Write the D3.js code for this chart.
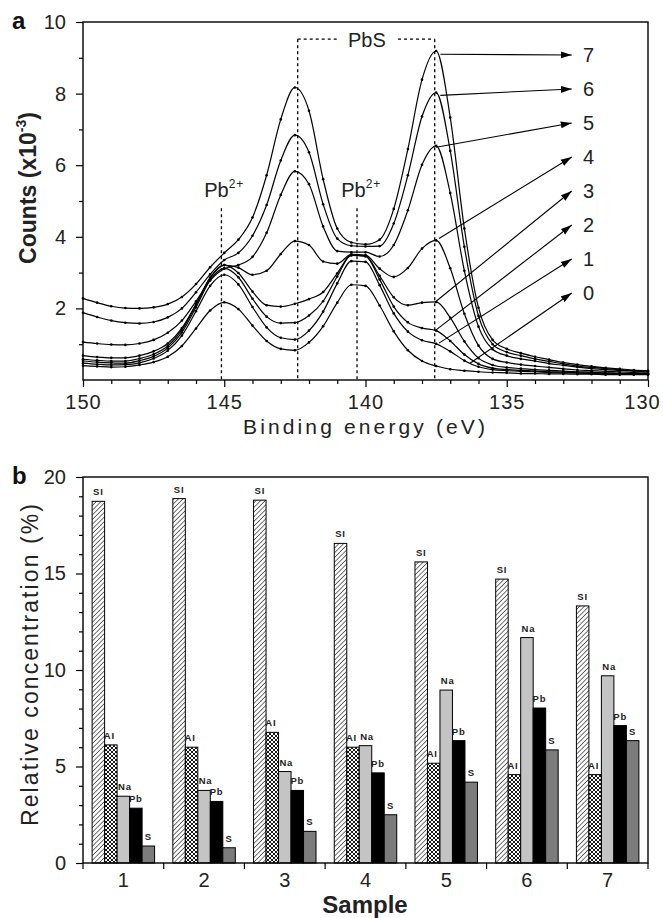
<!DOCTYPE html>
<html><head><meta charset="utf-8">
<script src="https://cdn.jsdelivr.net/npm/d3@7"></script>
<style>
body{margin:0;background:#fff}
svg{display:block;font-family:"Liberation Sans",Arial,Helvetica,sans-serif}
</style>
</head><body>
<svg id="c" width="663" height="918"></svg>
<script>
// ---------- Panel a data : XPS Pb 4f spectra (counts x10^-3) ----------
const energy = [150,149.5,149,148.5,148,147.5,147,146.5,146,145.5,145,144.5,144,143.5,143,142.5,142,141.5,141,140.5,140,139.5,139,138.5,138,137.5,137,136.5,136,135.5,135,134.5,134,133.5,133,132.5,132,131.5,131,130.5,130];
const spectrum7 = [2.28,2.16,2.06,2.01,2.00,2.03,2.12,2.32,2.68,3.15,3.55,3.92,4.54,5.72,7.28,8.17,7.52,5.61,4.23,3.84,3.79,3.92,4.78,6.45,8.39,9.19,7.33,4.23,2.02,1.12,0.87,0.75,0.65,0.57,0.49,0.43,0.38,0.34,0.31,0.28,0.26];
const spectrum6 = [1.88,1.76,1.66,1.60,1.58,1.62,1.75,2.00,2.45,2.95,3.35,3.55,4.03,4.89,6.13,6.84,6.36,4.91,3.95,3.75,3.73,3.74,4.37,5.72,7.36,8.03,6.40,3.72,1.79,1.00,0.78,0.68,0.59,0.52,0.45,0.39,0.35,0.32,0.29,0.26,0.25];
const spectrum5 = [1.06,1.02,0.99,0.98,1.02,1.12,1.32,1.66,2.20,2.78,3.11,3.21,3.44,4.11,5.17,5.83,5.47,4.29,3.60,3.57,3.57,3.45,3.77,4.74,6.01,6.54,5.22,3.05,1.49,0.86,0.68,0.59,0.53,0.46,0.41,0.36,0.32,0.29,0.27,0.25,0.23];
const spectrum4 = [0.68,0.64,0.62,0.62,0.68,0.80,1.02,1.45,2.12,2.85,3.21,3.14,2.94,3.05,3.52,3.88,3.77,3.31,3.25,3.51,3.49,3.11,2.88,3.13,3.67,3.90,3.12,1.85,0.96,0.59,0.49,0.43,0.39,0.35,0.31,0.28,0.26,0.24,0.23,0.21,0.20];
const spectrum3 = [0.58,0.55,0.53,0.53,0.60,0.72,0.95,1.40,2.10,2.86,3.21,2.99,2.47,2.09,2.05,2.13,2.26,2.46,2.98,3.48,3.46,2.91,2.31,2.09,2.16,2.18,1.74,1.08,0.61,0.42,0.35,0.32,0.29,0.27,0.25,0.23,0.22,0.20,0.19,0.18,0.18];
const spectrum2 = [0.53,0.50,0.48,0.47,0.54,0.66,0.89,1.33,2.03,2.79,3.12,2.87,2.27,1.77,1.59,1.60,1.80,2.20,2.89,3.49,3.46,2.81,2.05,1.61,1.45,1.38,1.09,0.71,0.45,0.33,0.29,0.27,0.25,0.23,0.22,0.20,0.20,0.19,0.18,0.17,0.17];
const spectrum1 = [0.47,0.44,0.42,0.43,0.48,0.60,0.82,1.24,1.92,2.63,2.94,2.67,2.04,1.47,1.18,1.13,1.38,1.91,2.70,3.32,3.30,2.65,1.86,1.35,1.11,1.01,0.80,0.54,0.37,0.29,0.26,0.24,0.23,0.21,0.20,0.19,0.18,0.17,0.17,0.16,0.16];
const spectrum0 = [0.40,0.38,0.36,0.37,0.42,0.50,0.65,0.95,1.44,1.94,2.17,1.98,1.52,1.09,0.87,0.83,1.05,1.50,2.16,2.66,2.63,2.08,1.36,0.83,0.53,0.39,0.30,0.26,0.23,0.21,0.20,0.18,0.18,0.17,0.17,0.16,0.16,0.15,0.15,0.15,0.15];
const spectra = [spectrum0,spectrum1,spectrum2,spectrum3,spectrum4,spectrum5,spectrum6,spectrum7];

const xTicksMajorA = [150,145,140,135,130];
const yTicksMajorA = [2,4,6,8,10];

// annotations (energy, counts)
const pb2Lines = [145.1, 140.3];
const pb2LineTop = 4.8;
const pb2Labels = [145.0, 140.15];
const pb2LabelLevel = 5.12;
const pbsLines = [142.4, 137.55];
const pbsBracketLevel = 9.52;
const pbsBracketSegments = [[142.4,141.0],[138.85,137.55]];
const pbsLabelEnergy = 139.95, pbsLabelLevel = 9.3;
const curveLabels = ["7","6","5","4","3","2","1","0"];
const arrowStartE = [137.35,137.35,137.5,137.4,137.5,137.5,137.4,136.3];
const arrowStartV = [9.10,7.95,6.50,3.95,2.20,1.40,1.03,0.47];
const labelLevels = [9.08,8.13,7.18,6.23,5.28,4.33,3.38,2.43];
const arrowTipE = 132.7, labelE = 132.1;

// ---------- Panel b data : relative concentration (%) ----------
const samples = ["1","2","3","4","5","6","7"];
const elements = ["Si","Al","Na","Pb","S"];
const elementLabels = ["SI","AI","Na","Pb","S"];
const siValues = [18.74,18.88,18.80,16.56,15.60,14.71,13.32];
const alValues = [6.12,6.00,6.77,6.00,5.17,4.58,4.58];
const naValues = [3.46,3.76,4.74,6.08,8.96,11.68,9.70];
const pbValues = [2.84,3.19,3.76,4.67,6.34,8.03,7.12];
const sValues  = [0.88,0.79,1.64,2.50,4.19,5.86,6.34];
const yTicksMajorB = [0,5,10,15,20];

const svg = d3.select("#c");
const defs = svg.append("defs");
const hatch = defs.append("pattern").attr("id","hatch").attr("patternUnits","userSpaceOnUse")
  .attr("width",3.3).attr("height",3.3).attr("patternTransform","rotate(45)");
hatch.append("rect").attr("width",3.3).attr("height",3.3).attr("fill","#fff");
hatch.append("line").attr("x1",0).attr("y1",0).attr("x2",0).attr("y2",3.3).attr("stroke","#000").attr("stroke-width",1.1);
const cross = defs.append("pattern").attr("id","cross").attr("patternUnits","userSpaceOnUse")
  .attr("width",4).attr("height",4);
cross.append("rect").attr("width",4).attr("height",4).attr("fill","#fff");
cross.append("path").attr("d","M0,0L4,4M4,0L0,4").attr("stroke","#000").attr("stroke-width",0.9);
defs.append("marker").attr("id","arr").attr("markerUnits","userSpaceOnUse")
  .attr("markerWidth",11).attr("markerHeight",8).attr("refX",11).attr("refY",4).attr("orient","auto")
  .append("path").attr("d","M0,0.5L11,4L0,7.5Z").attr("fill","#000");

function cleanAxis(g){ g.select(".domain").remove(); g.selectAll("line").attr("stroke","#000").attr("stroke-width",1.2); }

// ================= Panel a =================
const L1=83,R1=648,T1=22,B1=380;
const xE = d3.scaleLinear().domain([150,130]).range([L1,R1]);
const yC = d3.scaleLinear().domain([0,10]).range([B1,T1]);
const ga = svg.append("g");

ga.append("g").attr("transform",`translate(${L1},0)`)
  .call(d3.axisLeft(yC).tickValues(d3.range(1,10,2)).tickSize(4).tickFormat(""))
  .call(cleanAxis);
ga.append("g").attr("transform",`translate(${L1},0)`)
  .call(d3.axisLeft(yC).tickValues(yTicksMajorA).tickSize(7).tickPadding(10))
  .call(cleanAxis)
  .selectAll("text").attr("font-size",20).attr("fill","#222").attr("font-family","Liberation Sans, Arial");
ga.append("g").attr("transform",`translate(0,${B1})`)
  .call(d3.axisBottom(xE).tickValues(d3.range(131,150).filter(d=>d%5!==0)).tickSize(4).tickFormat(""))
  .call(cleanAxis);
ga.append("g").attr("transform",`translate(0,${B1})`)
  .call(d3.axisBottom(xE).tickValues(xTicksMajorA).tickSize(7).tickPadding(8))
  .call(cleanAxis)
  .selectAll("text").attr("font-size",20).attr("fill","#222").attr("font-family","Liberation Sans, Arial")
  .attr("letter-spacing",1).attr("dx",d=>d===130?-6:0);

// dashed reference lines
const dash = ga.append("g").attr("stroke","#000").attr("stroke-width",1.3).attr("stroke-dasharray","3,3").attr("fill","none");
pb2Lines.forEach(e=>dash.append("line").attr("x1",xE(e)).attr("x2",xE(e)).attr("y1",yC(pb2LineTop)).attr("y2",yC(0)));
pbsLines.forEach(e=>dash.append("line").attr("x1",xE(e)).attr("x2",xE(e)).attr("y1",yC(pbsBracketLevel)).attr("y2",yC(0)));
pbsBracketSegments.forEach(s=>dash.append("line").attr("x1",xE(s[0])).attr("x2",xE(s[1])).attr("y1",yC(pbsBracketLevel)).attr("y2",yC(pbsBracketLevel)));

// spectra
const line = d3.line().x((d,i)=>xE(energy[i])).y(d=>yC(d)).curve(d3.curveMonotoneX);
spectra.forEach(s=>{
  ga.append("path").attr("d",line(s)).attr("fill","none").attr("stroke","#000").attr("stroke-width",1.2);
  ga.append("g").selectAll("circle").data(s).join("circle")
    .attr("cx",(d,i)=>xE(energy[i])).attr("cy",d=>yC(d)).attr("r",1.3).attr("fill","#000");
});

// labels
pb2Labels.forEach(e=>{
  const t = ga.append("text").attr("x",xE(e)).attr("y",yC(pb2LabelLevel)).attr("text-anchor","middle")
    .attr("font-size",20).attr("fill","#222");
  t.append("tspan").text("Pb");
  t.append("tspan").attr("font-size",12).attr("dy",-9).attr("letter-spacing",1).text("2+");
});
ga.append("text").attr("x",xE(pbsLabelEnergy)).attr("y",yC(pbsLabelLevel)).attr("text-anchor","middle")
  .attr("font-size",20).attr("fill","#222").text("PbS");

// arrows + numbers
curveLabels.forEach((lab,i)=>{
  ga.append("line").attr("x1",xE(arrowStartE[i])).attr("y1",yC(arrowStartV[i]))
    .attr("x2",xE(arrowTipE)).attr("y2",yC(labelLevels[i]))
    .attr("stroke","#000").attr("stroke-width",1.1).attr("marker-end","url(#arr)");
  ga.append("text").attr("x",xE(labelE)).attr("y",yC(labelLevels[i])).attr("dy","0.36em")
    .attr("text-anchor","middle").attr("font-size",20).attr("fill","#222").text(lab);
});

ga.append("rect").attr("x",L1).attr("y",T1).attr("width",R1-L1).attr("height",B1-T1)
  .attr("fill","none").attr("stroke","#000").attr("stroke-width",1.4);

// axis titles
ga.append("text").attr("x",243).attr("y",434).attr("font-size",21).attr("fill","#222")
  .attr("textLength",242).attr("lengthAdjust","spacing").text("Binding energy (eV)");
const ct = ga.append("text").attr("transform","translate(36,188) rotate(-90)").attr("text-anchor","middle")
  .attr("font-size",23).attr("font-weight","bold").attr("fill","#222");
ct.append("tspan").text("Counts (x10");
ct.append("tspan").attr("font-size",14).attr("dy",-10).text("-3");
ct.append("tspan").attr("dy",10).text(")");
ga.append("text").attr("x",12).attr("y",29).attr("font-size",24).attr("font-weight","bold").attr("fill","#111").text("a");

// ================= Panel b =================
const L2=83,R2=648,T2=477,B2=863;
const xs = d3.scaleBand().domain(samples).range([L2,R2]).paddingInner(0).paddingOuter(0);
const xb = d3.scaleBand().domain(elements).range([0,xs.bandwidth()]).paddingInner(0).paddingOuter(0.73);
const yR = d3.scaleLinear().domain([0,20]).range([B2,T2]);
const gb = svg.append("g");

gb.append("g").attr("transform",`translate(${L2},0)`)
  .call(d3.axisLeft(yR).tickValues(d3.range(1,20).filter(d=>d%5!==0)).tickSize(4).tickFormat(""))
  .call(cleanAxis);
gb.append("g").attr("transform",`translate(${L2},0)`)
  .call(d3.axisLeft(yR).tickValues(yTicksMajorB).tickSize(7).tickPadding(10))
  .call(cleanAxis)
  .selectAll("text").attr("font-size",20).attr("fill","#222").attr("font-family","Liberation Sans, Arial");
const bounds = samples.map(s=>xs(s)).concat([xs.range()[1]]);
gb.append("g").selectAll("line").data(bounds).join("line")
  .attr("x1",d=>d).attr("x2",d=>d).attr("y1",B2).attr("y2",B2+6).attr("stroke","#000").attr("stroke-width",1.2);
gb.append("g").attr("transform",`translate(0,${B2})`)
  .call(d3.axisBottom(xs).tickSize(0).tickPadding(10))
  .call(g=>g.select(".domain").remove())
  .selectAll("text").attr("font-size",20).attr("fill","#222").attr("font-family","Liberation Sans, Arial");

const valuesByElement = [siValues,alValues,naValues,pbValues,sValues];
const fills = ["url(#hatch)","url(#cross)","#c4c4c4","#000","#7c7c7c"];
const labelShift = [0,-1.5,1.5,0,0];
elements.forEach((el,k)=>{
  const vals = valuesByElement[k];
  gb.append("g").selectAll("rect").data(vals).join("rect")
    .attr("x",(d,i)=>xs(samples[i])+xb(el)).attr("width",xb.bandwidth())
    .attr("y",d=>yR(d)).attr("height",d=>yR(0)-yR(d))
    .attr("fill",fills[k]).attr("stroke","#000").attr("stroke-width",1);
  gb.append("g").selectAll("text").data(vals).join("text")
    .attr("x",(d,i)=>xs(samples[i])+xb(el)+xb.bandwidth()/2+labelShift[k]).attr("y",d=>yR(d)-6)
    .attr("text-anchor","middle").attr("font-size",9.5).attr("font-weight","bold")
    .attr("letter-spacing",0.8).attr("fill","#222").text(elementLabels[k]);
});

gb.append("rect").attr("x",L2).attr("y",T2).attr("width",R2-L2).attr("height",B2-T2)
  .attr("fill","none").attr("stroke","#000").attr("stroke-width",1.4);

gb.append("text").attr("transform","translate(38,665) rotate(-90)").attr("text-anchor","middle")
  .attr("font-size",23).attr("fill","#222").attr("textLength",322).attr("lengthAdjust","spacing")
  .text("Relative concentration (%)");
gb.append("text").attr("x",365).attr("y",913).attr("text-anchor","middle").attr("font-size",24)
  .attr("font-weight","bold").attr("fill","#222").text("Sample");
gb.append("text").attr("x",12).attr("y",484).attr("font-size",24).attr("font-weight","bold").attr("fill","#111").text("b");
</script>
</body></html>
